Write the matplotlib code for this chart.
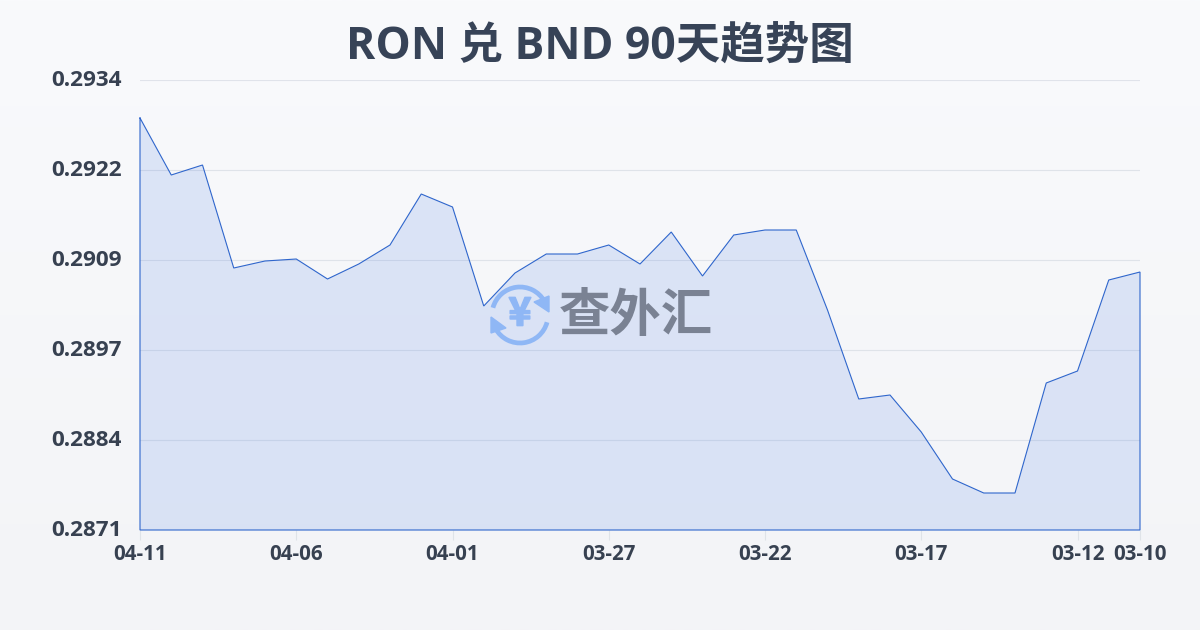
import numpy as np
import matplotlib
matplotlib.use("Agg")
import matplotlib.pyplot as plt
import matplotlib.patheffects as pe
from matplotlib.patches import Arc, Polygon
from matplotlib.transforms import ScaledTranslation

plt.rcParams['font.family'] = ['Open Sans', 'Noto Sans CJK SC', 'DejaVu Sans']

title = "RON 兑 BND 90天趋势图"
values = [0.292868, 0.29207, 0.29221, 0.290768, 0.290866, 0.290894, 0.290614, 0.290824,
          0.29109, 0.291804, 0.291622, 0.290236, 0.290698, 0.290964, 0.290964, 0.29109,
          0.290824, 0.291272, 0.290656, 0.29123, 0.2913, 0.2913, 0.29018, 0.288934,
          0.28899, 0.288472, 0.287814, 0.287618, 0.287618, 0.289158, 0.289326, 0.2906, 0.290712]
x_tick_idx = [0, 5, 10, 15, 20, 25, 30, 32]
x_tick_labels = ["04-11", "04-06", "04-01", "03-27", "03-22", "03-17", "03-12", "03-10"]
y_ticks = [0.2871, 0.28836, 0.28962, 0.29088, 0.29214, 0.2934]
y_tick_labels = ["0.2871", "0.2884", "0.2897", "0.2909", "0.2922", "0.2934"]

W, H = 1200, 630
fig = plt.figure(figsize=(W/100, H/100), dpi=100)

bg = fig.add_axes([0, 0, 1, 1], zorder=0)
grad = np.linspace(0, 1, 256).reshape(-1, 1, 1)
top = np.array([0xf9, 0xfa, 0xfc]) / 255
bot = np.array([0xf3, 0xf4, 0xf7]) / 255
bg.imshow(top + (bot - top) * grad, aspect='auto', extent=[0, 1, 0, 1])
bg.axis('off')

ax = fig.add_axes([140/W, 1-530/H, 1000/W, 450/H], zorder=1)
ax.patch.set_alpha(0)
x = np.arange(len(values))
ax.set_xlim(0, 32)
ax.set_ylim(0.2871, 0.2934)
ax.fill_between(x, values, 0.2871, facecolor='#4d7fe6', alpha=0.16, lw=0, zorder=2)
ax.plot(np.r_[x, x[::-1][0], x[0], x[0]],
        np.r_[values, 0.2871, 0.2871, values[0]],
        color='#2f66cc', lw=0.8, zorder=3, solid_joinstyle='miter', clip_on=False)
ax.grid(axis='y', color='#d6dbe3', lw=0.8, alpha=0.7, zorder=1)
ax.set_axisbelow(True)
for s in ax.spines.values():
    s.set_visible(False)
ax.set_xticks(x_tick_idx)
ax.set_xticklabels(x_tick_labels, fontsize=14.8, fontweight='bold', color='#374151')
ax.set_yticks(y_ticks)
ax.set_yticklabels(y_tick_labels, fontsize=16.2, fontweight='bold', color='#374151')
ax.tick_params(axis='x', length=7, width=0.8, color='#dfe3e8', pad=3)
ax.tick_params(axis='y', length=0, pad=13)
shift = ScaledTranslation(0, 2/100, fig.dpi_scale_trans)
for lab in ax.get_yticklabels():
    lab.set_transform(lab.get_transform() + shift)

fig.text(600/W, 1-47/H, title, ha='center', va='center', fontsize=32, fontweight='bold', color='#374357')

# Watermark
ov = fig.add_axes([0, 0, 1, 1], zorder=2)
ov.set_xlim(0, W); ov.set_ylim(H, 0); ov.axis('off'); ov.patch.set_alpha(0)
blue = '#8fb7f5'
cx, cy = 520, 315
ov.add_patch(Arc((cx, cy), 56, 56, theta1=195, theta2=330, color=blue, lw=3.4))
ov.add_patch(Arc((cx, cy), 56, 56, theta1=15, theta2=150, color=blue, lw=3.4))
ov.add_patch(Polygon([[549, 296], [549, 312], [534, 302]], color=blue))
ov.add_patch(Polygon([[491, 317], [491, 333], [506, 328]], color=blue))
ov.text(cx, cy-1, "¥", ha='center', va='center', fontsize=28, fontweight='bold', color=blue,
        family=['Noto Sans CJK SC', 'DejaVu Sans'],
        path_effects=[pe.withStroke(linewidth=1.2, foreground=blue)])
ov.text(636, 316, "查外汇", ha='center', va='center', fontsize=37, fontweight='bold', color='#7a8293',
        family=['Noto Sans CJK SC', 'DejaVu Sans'])

fig.savefig("out.png", dpi=100)
